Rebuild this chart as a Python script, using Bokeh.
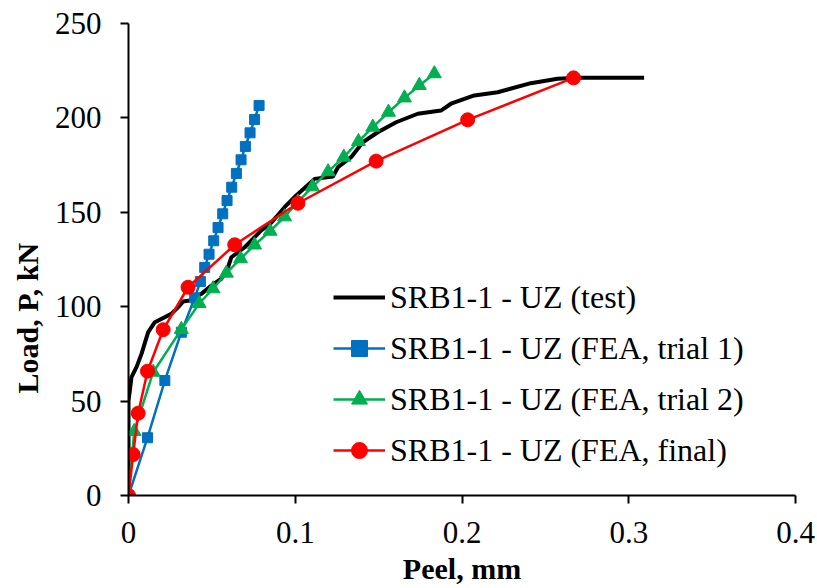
import math
from bokeh.plotting import figure
from bokeh.models import Legend, LegendItem, FixedTicker, Title, Range1d
from bokeh.embed import file_html
from bokeh.resources import INLINE

# ---- data ----
test_x = [0, 0, 0.0018, 0.0048, 0.0078, 0.0118, 0.0158, 0.0257, 0.0307, 0.0327, 0.0367,
          0.0437, 0.0497, 0.0557, 0.0597, 0.0617, 0.0697, 0.0796, 0.0856, 0.0936, 0.1006,
          0.1116, 0.1226, 0.1256, 0.1335, 0.1405, 0.1495, 0.1605, 0.1735, 0.1874, 0.1934,
          0.2074, 0.2214, 0.2413, 0.2573, 0.2673, 0.3092]
test_y = [0, 50, 62.7, 68.0, 75.0, 86.5, 91.8, 96.2, 100.6, 102.8, 103.3,
          106.8, 111.2, 114.8, 120.9, 126.2, 131.5, 140.4, 144.5, 152.7, 158.9,
          167.7, 169.0, 173.9, 179.2, 187.1, 192.4, 197.7, 202.2, 203.9, 207.5,
          211.9, 213.6, 218.4, 220.7, 221.2, 221.2]

trial1_x = [0, 0.0114, 0.0218, 0.0317, 0.0397, 0.0431, 0.0457, 0.0483, 0.0511, 0.0537,
            0.0565, 0.0591, 0.0619, 0.0647, 0.0675, 0.0701, 0.0729, 0.0756, 0.0783]
trial1_y = [0, 30.6, 60.9, 86.5, 104.7, 113.3, 120.8, 127.8, 134.9, 141.9,
            149.2, 156.2, 163.3, 170.6, 177.8, 184.9, 192.1, 199.2, 206.6]

trial2_x = [0, 0.0034, 0.0148, 0.0317, 0.0424, 0.0507, 0.0587, 0.0672, 0.0756, 0.0849,
            0.0936, 0.1016, 0.1103, 0.1197, 0.1291, 0.1379, 0.1465, 0.1559, 0.1655,
            0.1744, 0.1834]
trial2_y = [0, 33.9, 65.3, 88.0, 101.7, 109.5, 117.8, 125.4, 132.7, 140.0,
            147.6, 155.5, 163.5, 171.5, 179.2, 187.5, 195.1, 203.0, 210.6,
            217.2, 223.4]

final_x = [0, 0.0028, 0.0058, 0.0114, 0.0208, 0.0357, 0.0637, 0.1016, 0.1485, 0.2034, 0.2669]
final_y = [0, 21.7, 43.6, 65.8, 87.8, 110.3, 132.8, 154.8, 177.1, 199.0, 221.2]

x_ticks = [0, 0.1, 0.2, 0.3, 0.4]
x_tick_labels = ["0", "0.1", "0.2", "0.3", "0.4"]
y_ticks = [0, 50, 100, 150, 200, 250]

x_title = "Peel, mm"
y_title = "Load, P, kN"
labels = ["SRB1-1 - UZ (test)", "SRB1-1 - UZ (FEA, trial 1)",
          "SRB1-1 - UZ (FEA, trial 2)", "SRB1-1 - UZ (FEA, final)"]

FONT = "'Liberation Serif', 'Times New Roman', serif"

p = figure(width=817, height=588, output_backend="svg", toolbar_location=None,
           x_range=Range1d(0, 0.4), y_range=Range1d(0, 250),
           min_border_left=127, min_border_right=22, min_border_top=23, min_border_bottom=93)
p.grid.visible = False
p.outline_line_color = None

for ax in (p.xaxis[0], p.yaxis[0]):
    ax.axis_line_color = "black"
    ax.axis_line_width = 2
    ax.major_tick_line_color = "black"
    ax.major_tick_line_width = 2
    ax.major_tick_out = 8
    ax.major_tick_in = 0
    ax.minor_tick_line_color = None
    ax.major_label_text_font = FONT
    ax.major_label_text_font_size = "31px"
    ax.major_label_text_color = "black"

p.xaxis.ticker = FixedTicker(ticks=x_ticks)
p.xaxis.major_label_overrides = {t: l for t, l in zip(x_ticks, x_tick_labels)}
p.yaxis.ticker = FixedTicker(ticks=y_ticks)
p.xaxis.major_label_standoff = 18
p.yaxis.major_label_standoff = 19

p.xaxis.axis_label = x_title
p.xaxis.axis_label_text_font = FONT
p.xaxis.axis_label_text_font_size = "30px"
p.xaxis.axis_label_text_font_style = "bold"
p.xaxis.axis_label_text_color = "black"
p.xaxis.axis_label_standoff = 6

ytitle = Title(text=y_title, align="left", offset=102,
               text_font=FONT, text_font_size="30px", text_font_style="bold",
               text_color="black", standoff=16)
p.add_layout(ytitle, "left")

r_test = p.line(test_x, test_y, line_color="black", line_width=4)

l1 = p.line(trial1_x, trial1_y, line_color="#0070C0", line_width=2.5)
m1 = p.scatter(trial1_x, trial1_y, marker="square", size=10, fill_color="#0070C0",
               line_color="#0070C0")

l2 = p.line(trial2_x, trial2_y, line_color="#00B050", line_width=2.5)
m2 = p.scatter(trial2_x, trial2_y, marker="triangle", size=14, fill_color="#00B050",
               line_color="#00B050")

l3 = p.line(final_x, final_y, line_color="#FF0000", line_width=2.5)
m3 = p.scatter(final_x, final_y, marker="circle", size=14, fill_color="#FF0000",
               line_color="#FF0000")

legend = Legend(items=[
    LegendItem(label=labels[0], renderers=[r_test]),
    LegendItem(label=labels[1], renderers=[l1, m1]),
    LegendItem(label=labels[2], renderers=[l2, m2]),
    LegendItem(label=labels[3], renderers=[l3, m3]),
], location=(205, 25))
legend.label_text_font = FONT
legend.label_text_font_size = "32px"
legend.label_text_color = "black"
legend.glyph_width = 52
legend.glyph_height = 40
legend.label_height = 40
legend.spacing = 11
legend.label_standoff = 5
legend.padding = 0
legend.margin = 0
legend.border_line_alpha = 0
legend.background_fill_alpha = 0
p.add_layout(legend)

open("out.html", "w").write(file_html(p, INLINE))
